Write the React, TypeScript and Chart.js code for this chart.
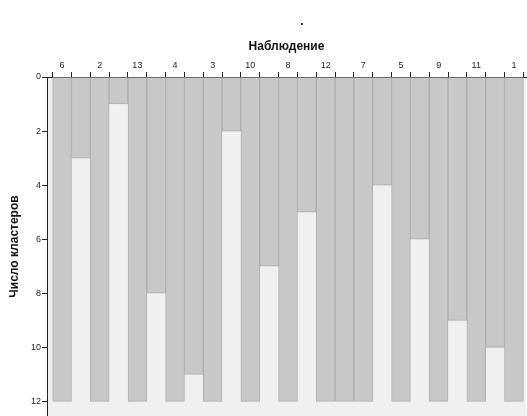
import React, { useEffect, useRef } from 'react';
import { Chart, registerables } from 'chart.js';

Chart.register(...registerables);

// Cases in icicle order (top axis labels)
const caseLabels = ['6', '2', '13', '4', '3', '10', '8', '12', '7', '5', '9', '11', '1'];
// Number of clusters down to which each adjacent pair of cases stays joined (gap columns)
const joinLevels = [3, 1, 8, 11, 2, 7, 5, 12, 4, 6, 9, 10];
// Y axis tick labels
const clusterTicks = [0, 2, 4, 6, 8, 10, 12];
const maxClusters = 12;

const FONT = "'Liberation Sans', Arial, sans-serif";

type Col = { x: number; y: [number, number] };
const columns: Col[] = [];
caseLabels.forEach((_, i) => {
  columns.push({ x: 2 * i, y: [0, maxClusters] });
  if (i < joinLevels.length) columns.push({ x: 2 * i + 1, y: [0, joinLevels[i]] });
});

const bgPlugin = {
  id: 'plotBg',
  beforeDraw(chart: any) {
    const { ctx, chartArea: a } = chart;
    ctx.save();
    ctx.fillStyle = '#f0f0f0';
    ctx.fillRect(a.left, a.top, a.right - a.left, a.bottom - a.top);
    ctx.restore();
  },
};

const titlePlugin = {
  id: 'dotTitle',
  afterDraw(chart: any) {
    const { ctx } = chart;
    ctx.save();
    ctx.fillStyle = '#000';
    ctx.font = `bold 12px ${FONT}`;
    ctx.textAlign = 'center';
    ctx.textBaseline = 'middle';
    ctx.fillText('.', 302, 22);
    ctx.restore();
  },
};

export default function App() {
  const ref = useRef<HTMLCanvasElement | null>(null);
  useEffect(() => {
    if (!ref.current) return;
    const chart = new Chart(ref.current, {
      type: 'bar',
      data: {
        datasets: [
          {
            data: columns as any,
            backgroundColor: '#c8c8c8',
            borderColor: '#adadad',
            borderWidth: 1,
            borderSkipped: false,
            barPercentage: 1,
            categoryPercentage: 1,
          } as any,
        ],
      },
      options: {
        animation: false,
        responsive: false,
        devicePixelRatio: 1,
        layout: { padding: { top: 0, left: 0, right: 1, bottom: 0 } },
        plugins: { legend: { display: false }, tooltip: { enabled: false }, title: { display: false } },
        scales: {
          x: {
            type: 'linear',
            position: 'top',
            offset: false,
            min: -0.8,
            max: 24.64,
            afterBuildTicks: (s: any) => {
              s.ticks = columns.map((c) => ({ value: c.x }));
            },
            afterFit: (s: any) => {
              s.height = 77;
              s.paddingLeft = 0;
              s.paddingRight = 0;
            },
            ticks: {
              autoSkip: false,
              maxRotation: 0,
              padding: 1,
              color: '#222',
              font: { size: 9, family: FONT },
              callback: (v: any) => (Number(v) % 2 === 0 ? caseLabels[Number(v) / 2] : ''),
            },
            grid: { drawOnChartArea: false, drawTicks: true, tickLength: 5, color: '#222' },
            border: { display: true, color: '#222', width: 1 },
            title: {
              display: true,
              text: 'Наблюдение',
              color: '#111',
              font: { size: 12, weight: 'bold', family: FONT },
              padding: { top: 39, bottom: 0 },
            },
          },
          y: {
            type: 'linear',
            reverse: true,
            min: 0,
            max: 12.54,
            afterBuildTicks: (s: any) => {
              s.ticks = clusterTicks.map((v) => ({ value: v }));
            },
            afterFit: (s: any) => {
              s.width = 47;
              s.paddingTop = 0;
              s.paddingBottom = 0;
            },
            ticks: {
              padding: 1,
              color: '#222',
              font: { size: 9, family: FONT },
            },
            grid: { drawOnChartArea: false, drawTicks: true, tickLength: 5, color: '#222' },
            border: { display: true, color: '#222', width: 1 },
            title: {
              display: true,
              text: 'Число кластеров',
              color: '#111',
              font: { size: 12, weight: 'bold', family: FONT },
              padding: { top: 7, bottom: 0 },
            },
          },
        },
      } as any,
      plugins: [bgPlugin, titlePlugin],
    });
    return () => chart.destroy();
  }, []);
  return (
    <div style={{ position: 'fixed', left: 0, top: 0, width: 527, height: 416, background: '#fff' }}>
      <canvas ref={ref} width={527} height={416} style={{ display: 'block' }} />
    </div>
  );
}
